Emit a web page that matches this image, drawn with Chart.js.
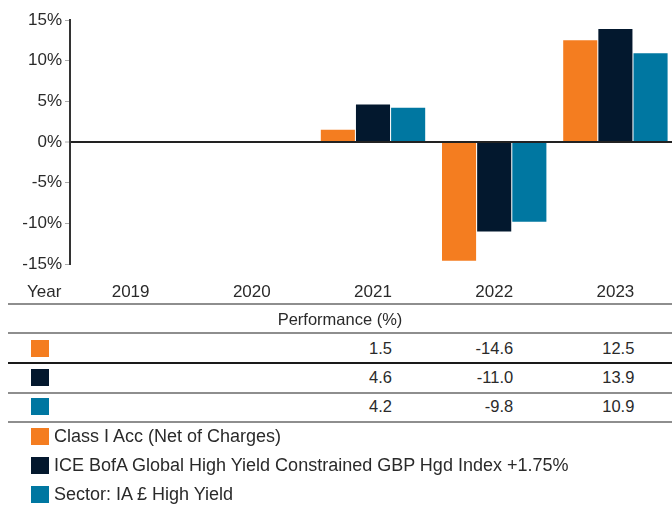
<!DOCTYPE html>
<html><head><meta charset="utf-8">
<script src="https://cdn.jsdelivr.net/npm/chart.js@4/dist/chart.umd.min.js"></script>
<style>
html,body{margin:0;padding:0;background:#fff;overflow:hidden;}
#wrap{position:relative;width:672px;height:506px;overflow:hidden;font-family:"Liberation Sans",Arial,sans-serif;color:#2a2a2a;}
#c{position:absolute;left:0;top:0;}
.t{position:absolute;white-space:nowrap;line-height:1;}
.hl{position:absolute;left:8px;width:664px;height:2px;background:#8e8e8e;}
.sq{position:absolute;width:18px;height:17px;}
</style></head>
<body><div id="wrap"><canvas id="c" width="676" height="306"></canvas></div>
<script>
const years = ['2019', '2020', '2021', '2022', '2023'];
const seriesNames = ['Class I Acc (Net of Charges)', 'ICE BofA Global High Yield Constrained GBP Hgd Index +1.75%', 'Sector: IA £ High Yield'];
const classIAcc = [null, null, 1.5, -14.6, 12.5];
const iceIndex = [null, null, 4.6, -11.0, 13.9];
const sectorIA = [null, null, 4.2, -9.8, 10.9];
const yTicks = [-15, -10, -5, 0, 5, 10, 15];
const tableTitle = 'Performance (%)';
const yearLabel = 'Year';
const colors = ['#f47d20', '#03182e', '#0077a1'];

const FONT = '"Liberation Sans", Arial, sans-serif';
const allSeries = [classIAcc, iceIndex, sectorIA];

const chart = new Chart(document.getElementById('c'), {
  type: 'bar',
  data: {
    labels: years,
    datasets: allSeries.map((d, i) => ({ label: seriesNames[i], data: d, backgroundColor: colors[i], borderWidth: 0 }))
  },
  options: {
    responsive: false, animation: false, devicePixelRatio: 1,
    layout: { padding: { top: 20, left: 0, right: 0, bottom: 0 } },
    plugins: { legend: { display: false }, tooltip: { enabled: false } },
    datasets: { bar: { categoryPercentage: 0.87, barPercentage: 0.97 } },
    scales: {
      x: {
        grid: { display: false, drawTicks: false },
        border: { display: false },
        ticks: { padding: 18, color: '#2a2a2a', font: { size: 17, family: FONT } },
        afterFit: s => { s.height = 42; }
      },
      y: {
        min: -15, max: 15,
        afterBuildTicks: s => { s.ticks = yTicks.map(v => ({ value: v })); },
        ticks: { callback: v => v + '%', padding: 3, color: '#2a2a2a', font: { size: 17, family: FONT } },
        grid: {
          color: ctx => (ctx.tick && ctx.tick.value === 0) ? '#222' : 'rgba(0,0,0,0)',
          lineWidth: ctx => (ctx.tick && ctx.tick.value === 0) ? 2 : 1,
          tickColor: '#aaa', tickLength: 5, tickWidth: 1, drawTicks: true
        },
        border: { display: true, color: '#333', width: 2 },
        afterFit: s => { s.width = 70; }
      }
    }
  }
});

const wrap = document.getElementById('wrap');
function add(cls, style, text) {
  const d = document.createElement('div');
  d.className = cls;
  Object.assign(d.style, style);
  if (text !== undefined) d.textContent = text;
  wrap.appendChild(d);
  return d;
}
// Year label
add('t', { left: '27px', top: '283px', fontSize: '17px' }, yearLabel);
// lines
const lineTops = [303, 332, 362, 392, 421];
lineTops.forEach((y, i) => add('hl', { top: y + 'px', background: i === 2 ? '#1a1a1a' : '#8e8e8e' }));
// title
add('t', { left: '8px', width: '664px', textAlign: 'center', top: '311px', fontSize: '16.5px' }, tableTitle);
// rows
const rowCenters = [349, 378, 407];
const xs = chart.scales.x;
allSeries.forEach((d, r) => {
  add('sq', { left: '31px', top: (rowCenters[r] - 9) + 'px', background: colors[r] });
  d.forEach((v, i) => {
    if (v === null) return;
    const right = xs.getPixelForValue(i) + 19;
    add('t', { left: (right - 80) + 'px', width: '80px', textAlign: 'right', top: (rowCenters[r] - 9) + 'px', fontSize: '16.5px' }, v.toFixed(1));
  });
});
// legend
const legCenters = [437, 466, 495];
seriesNames.forEach((n, r) => {
  add('sq', { left: '31px', top: (legCenters[r] - 9) + 'px', background: colors[r] });
  add('t', { left: '54px', top: (legCenters[r] - 10) + 'px', fontSize: '18px' }, n);
});
</script>
</body></html>
